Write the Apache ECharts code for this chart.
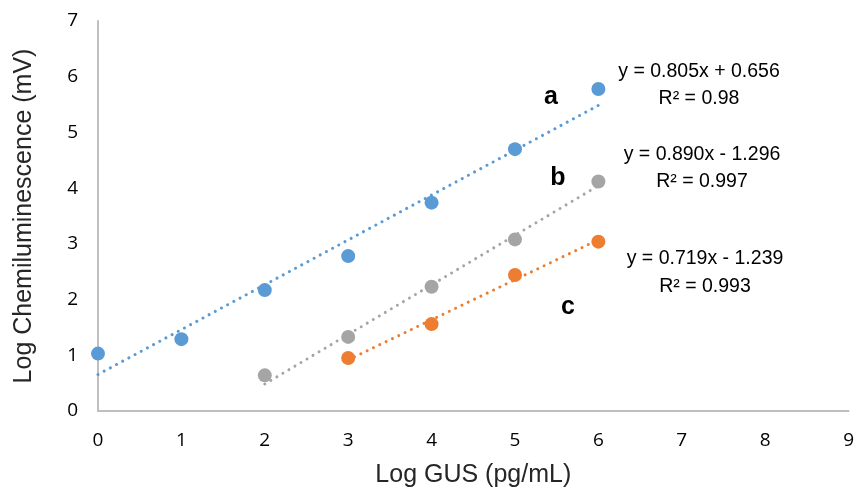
<!DOCTYPE html>
<html>
<head>
<meta charset="utf-8">
<script src="https://cdn.jsdelivr.net/npm/echarts@6/dist/echarts.min.js"></script>
<style>
  html, body { margin: 0; padding: 0; background: #fff; }
  #main { width: 857px; height: 493px; }
</style>
</head>
<body>
<div id="main"></div>
<script>
// measured points (log GUS vs log chemiluminescence)
const xA = [0, 1, 2, 3, 4, 5, 6];
const yA = [1.03, 1.29, 2.17, 2.78, 3.74, 4.70, 5.78];
const xB = [2, 3, 4, 5, 6];
const yB = [0.64, 1.33, 2.23, 3.08, 4.12];
const xC = [3, 4, 5, 6];
const yC = [0.95, 1.56, 2.44, 3.04];

// linear fits shown on the chart
const slopes = [0.805, 0.890, 0.719];
const intercepts = [0.656, -1.296, -1.239];
const equations = ['y = 0.805x + 0.656', 'y = 0.890x - 1.296', 'y = 0.719x - 1.239'];
const r2Labels = ['R² = 0.98', 'R² = 0.997', 'R² = 0.993'];
const seriesNames = ['a', 'b', 'c'];

const colors = ['#5b9bd5', '#a5a5a5', '#ed7d31'];
const xs = [xA, xB, xC];
const ys = [yA, yB, yC];

const chart = echarts.init(document.getElementById('main'));

const series = [];
xs.forEach((xArr, i) => {
  const pts = xArr.map((x, j) => [x, ys[i][j]]);
  series.push({
    name: seriesNames[i],
    type: 'scatter',
    data: pts,
    symbol: 'circle',
    symbolSize: 14,
    itemStyle: { color: colors[i], opacity: 1 },
    z: 2
  });
  // trendline from the fitted equation
  const x0 = xArr[0], x1 = xArr[xArr.length - 1];
  series.push({
    type: 'line',
    data: [[x0, slopes[i] * x0 + intercepts[i]], [x1, slopes[i] * x1 + intercepts[i]]],
    symbol: 'none',
    lineStyle: { color: colors[i], width: 3, type: [0.01, 7], cap: 'round' },
    silent: true,
    z: 3
  });
});

// annotation positions (pixels)
const eqPos = [[699, 72, 99], [702, 155, 182], [705, 259, 287]];
const letterPos = [[551, 97], [558, 178], [568, 307]];
const graphics = [];
eqPos.forEach((p, i) => {
  graphics.push({ type: 'text', x: p[0], y: p[1], style: { text: equations[i], font: '19.5px "Liberation Sans"', fill: '#000', align: 'center', verticalAlign: 'middle' } });
  graphics.push({ type: 'text', x: p[0], y: p[2], style: { text: r2Labels[i], font: '19.5px "Liberation Sans"', fill: '#000', align: 'center', verticalAlign: 'middle' } });
  graphics.push({ type: 'text', x: letterPos[i][0], y: letterPos[i][1], style: { text: seriesNames[i], font: 'bold 25px "Liberation Sans"', fill: '#000', align: 'center', verticalAlign: 'middle' } });
});

chart.setOption({
  animation: false,
  grid: { left: 98, right: 5, top: 21, bottom: 77, containLabel: false },
  xAxis: {
    type: 'value', min: 0, max: 9, interval: 1,
    name: 'Log GUS (pg/mL)', nameLocation: 'middle', nameGap: 52,
    nameTextStyle: { fontFamily: 'Liberation Sans', fontSize: 25, color: '#262626' },
    axisLine: { show: true, lineStyle: { color: '#bfbfbf', width: 2 } },
    axisTick: { show: false },
    splitLine: { show: false },
    axisLabel: { fontFamily: 'Open Sans', fontSize: 19, color: '#000', margin: 20 }
  },
  yAxis: {
    type: 'value', min: 0, max: 7, interval: 1,
    name: 'Log Chemiluminescence (mV)', nameLocation: 'middle', nameGap: 61,
    nameTextStyle: { fontFamily: 'Liberation Sans', fontSize: 25, color: '#262626' },
    axisLine: { show: true, lineStyle: { color: '#bfbfbf', width: 2 } },
    axisTick: { show: false },
    splitLine: { show: false },
    axisLabel: { fontFamily: 'Open Sans', fontSize: 19, color: '#000', margin: 20 }
  },
  series: series,
  graphic: graphics
});
</script>
</body>
</html>
